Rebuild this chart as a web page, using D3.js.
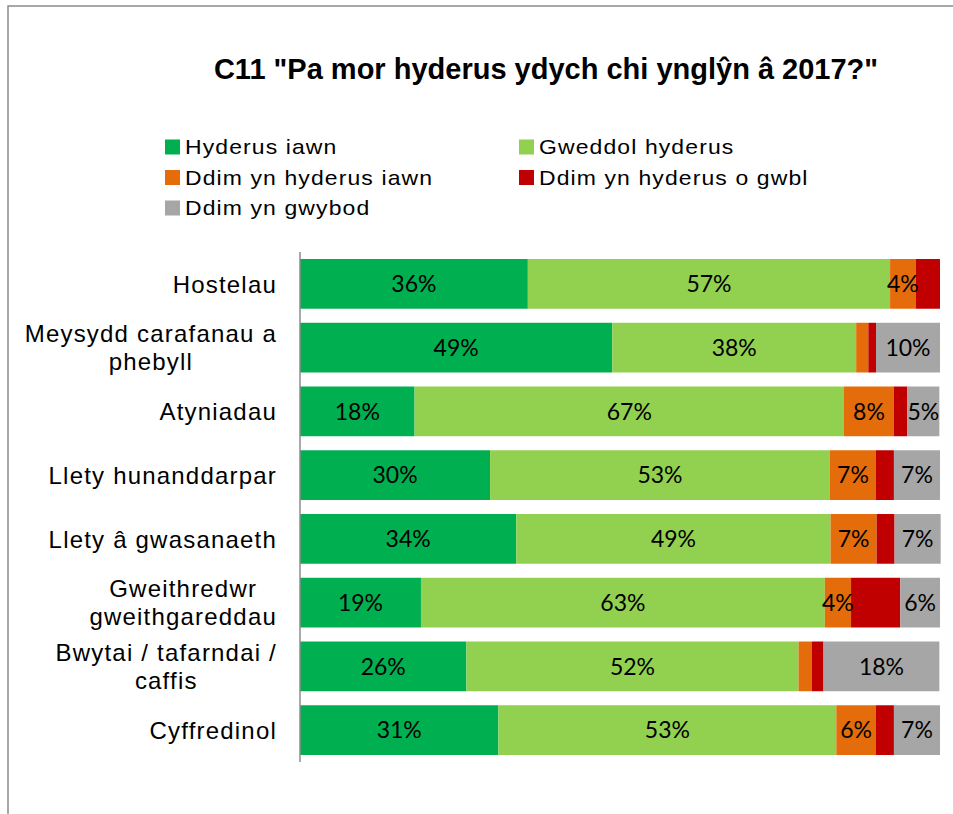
<!DOCTYPE html>
<html>
<head>
<meta charset="utf-8">
<script src="https://cdn.jsdelivr.net/npm/d3@7"></script>
<style>
  html, body { margin: 0; padding: 0; background: #fff; }
  svg { display: block; }
</style>
</head>
<body>
<svg id="chart" width="953" height="814"></svg>
<script>
// ---------- DATA ----------
const title = 'C11 "Pa mor hyderus ydych chi ynglŷn â 2017?"';
const categories = [
  ["Hostelau"],
  ["Meysydd carafanau a", "phebyll"],
  ["Atyniadau"],
  ["Llety hunanddarpar"],
  ["Llety â gwasanaeth"],
  ["Gweithredwr", "gweithgareddau"],
  ["Bwytai / tafarndai /", "caffis"],
  ["Cyffredinol"]
];
const seriesNames = ["Hyderus iawn", "Gweddol hyderus", "Ddim yn hyderus iawn", "Ddim yn hyderus o gwbl", "Ddim yn gwybod"];
const seriesColors = ["#00B050", "#92D050", "#E46C0A", "#C00000", "#A6A6A6"];
const hyderusIawn      = [35.6, 48.8, 17.9, 29.7, 33.8, 18.9, 26.0, 31.0];
const gweddolHyderus   = [56.6, 38.1, 67.1, 53.1, 49.1, 63.1, 51.9, 52.8];
const ddimHyderusIawn  = [4.0, 1.9, 7.8, 7.2, 7.2, 4.1, 2.1, 6.2];
const ddimHyderusGwbl  = [3.8, 1.2, 2.1, 2.8, 2.8, 7.7, 1.8, 2.8];
const ddimGwybod       = [0.0, 10.0, 5.0, 7.2, 7.2, 6.2, 18.1, 7.2];
const seriesValues = [hyderusIawn, gweddolHyderus, ddimHyderusIawn, ddimHyderusGwbl, ddimGwybod];
// labels: red series never labelled; small segments not labelled
const labelledSeries = [true, true, true, false, true];
const minLabelValue = 3;

// ---------- LAYOUT ----------
const svg = d3.select("#chart");
const W = 953, H = 814;
const plot = { left: 300, right: 940, top: 252, bottom: 762 };

// outer frame (top and left edges visible)
svg.append("path")
  .attr("d", `M8,${H} L8,6 L${W},6`)
  .attr("fill", "none")
  .attr("stroke", "#8c8c8c")
  .attr("stroke-width", 1.5);

// title
svg.append("text")
  .attr("x", 546).attr("y", 79)
  .attr("text-anchor", "middle")
  .attr("font-family", "Liberation Sans, Arial, sans-serif")
  .attr("font-weight", "bold")
  .attr("font-size", 29)
  .attr("fill", "#000")
  .text(title);

// legend
const legendPos = [
  { x: 165, y: 147 }, { x: 519, y: 147 },
  { x: 165, y: 177.5 }, { x: 519, y: 177.5 },
  { x: 165, y: 208 }
];
const legend = svg.append("g");
seriesNames.forEach((name, i) => {
  const g = legend.append("g").attr("transform", `translate(${legendPos[i].x},${legendPos[i].y})`);
  g.append("rect").attr("x", 0).attr("y", -7.5).attr("width", 15).attr("height", 15).attr("fill", seriesColors[i]);
  g.append("text")
    .attr("transform", "translate(20,0) scale(1.12,1)")
    .attr("dy", "0.36em")
    .attr("font-family", "Liberation Sans, Arial, sans-serif")
    .attr("font-size", 20.5)
    .attr("letter-spacing", 1.0)
    .attr("fill", "#000")
    .text(name);
});

// scales
const x = d3.scaleLinear().domain([0, 100]).range([plot.left, plot.right]);
const y = d3.scaleBand().domain(d3.range(categories.length))
  .range([plot.top, plot.bottom]).paddingInner(0.22).paddingOuter(0.11);

// stacked data
const rows = categories.map((c, i) => {
  const r = { idx: i };
  seriesNames.forEach((s, k) => { r[s] = seriesValues[k][i]; });
  return r;
});
const stack = d3.stack().keys(seriesNames)(rows);

const barsG = svg.append("g");
stack.forEach((layer, k) => {
  const g = barsG.append("g").attr("fill", seriesColors[k]);
  g.selectAll("rect").data(layer).join("rect")
    .attr("x", d => x(d[0]))
    .attr("y", (d, i) => y(i))
    .attr("width", d => Math.max(0, x(d[1]) - x(d[0])))
    .attr("height", y.bandwidth());
});

// data labels
stack.forEach((layer, k) => {
  if (!labelledSeries[k]) return;
  const vals = seriesValues[k];
  const g = barsG.append("g");
  g.selectAll("text").data(layer.filter(d => vals[d.data.idx] >= minLabelValue)).join("text")
    .attr("x", d => (x(d[0]) + x(d[1])) / 2)
    .attr("y", d => y(d.data.idx) + y.bandwidth() / 2)
    .attr("dy", "0.36em")
    .attr("text-anchor", "middle")
    .attr("font-family", "Lato, Carlito, Calibri, sans-serif")
    .attr("font-size", 23)
    .attr("fill", "#000")
    .text(d => Math.round(vals[d.data.idx]) + "%");
});

// category axis
const yAxis = d3.axisLeft(y).tickSize(0).tickFormat("");
const axisG = svg.append("g").attr("transform", `translate(${plot.left},0)`).call(yAxis);
axisG.select(".domain").attr("stroke", "#8c8c8c").attr("stroke-width", 1.5)
  .attr("d", `M0,${plot.top}V${plot.bottom}`);

// category labels (multi-line, centered block, right edge at x=277)
const catG = svg.append("g");
categories.forEach((lines, i) => {
  const cy = y(i) + y.bandwidth() / 2;
  const lh = 28;
  const t = catG.append("text")
    .attr("font-family", "Liberation Sans, Arial, sans-serif")
    .attr("font-size", 24)
    .attr("letter-spacing", 1.2)
    .attr("fill", "#000")
    .attr("text-anchor", "end");
  lines.forEach((ln, j) => {
    t.append("tspan")
      .attr("x", 277)
      .attr("y", cy + (j - (lines.length - 1) / 2) * lh)
      .attr("dy", "0.36em")
      .text(ln);
  });
});
catG.selectAll("text").each(function() {
  const spans = d3.select(this).selectAll("tspan").nodes();
  if (spans.length < 2) return;
  const widths = spans.map(s => s.getComputedTextLength());
  const maxW = d3.max(widths);
  const centerX = 277 - maxW / 2;
  spans.forEach((s) => {
    d3.select(s).attr("text-anchor", "middle").attr("x", centerX);
  });
});
</script>
</body>
</html>
